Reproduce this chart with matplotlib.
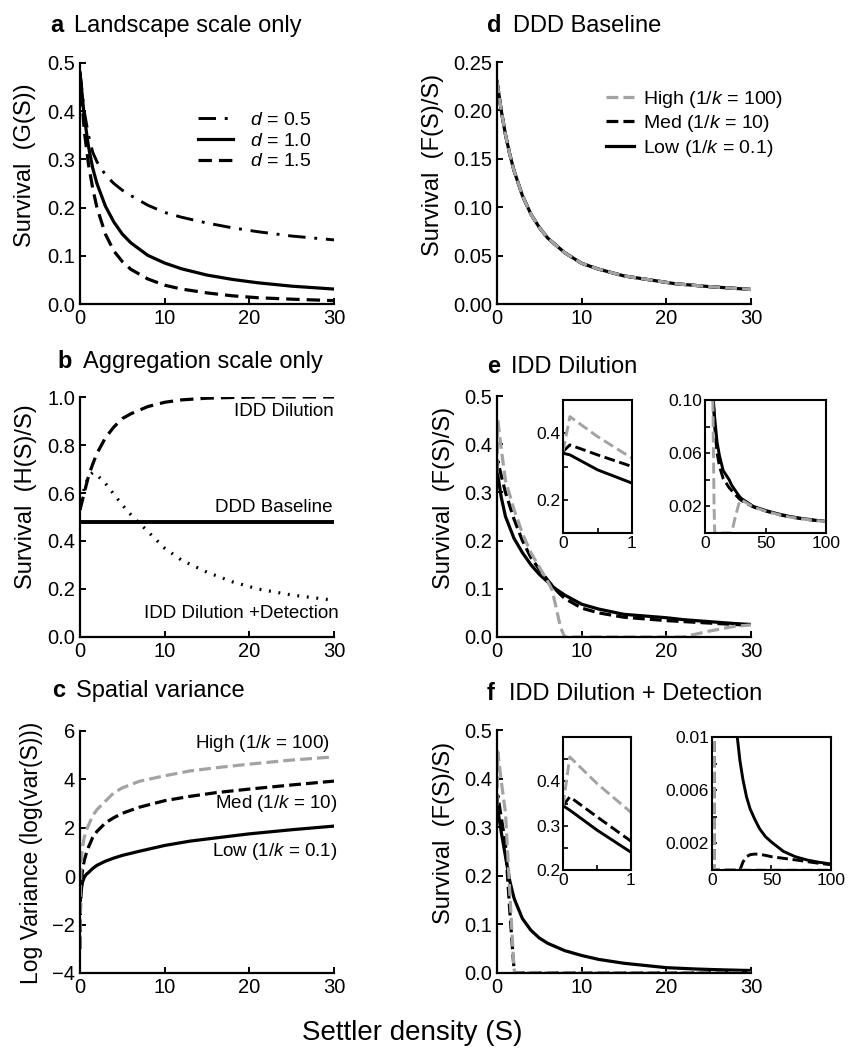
import matplotlib
matplotlib.use("Agg")
import matplotlib.pyplot as plt
import numpy as np

plt.rcParams['font.family'] = ['Liberation Sans', 'DejaVu Sans']
plt.rcParams['mathtext.fontset'] = 'custom'
plt.rcParams['mathtext.rm'] = 'Liberation Sans'
plt.rcParams['mathtext.it'] = 'Liberation Sans:italic'

GREY = '#a3a3a3'
W, H = 853, 1050

# ---- panel a : landscape scale only ----
a_x = [0, 0.5, 1, 1.5, 2, 3, 4, 5, 6, 8, 10, 12, 15, 18, 21, 25, 30]
a_d05 = [0.48, 0.40, 0.35, 0.315, 0.295, 0.268, 0.250, 0.236, 0.225, 0.205, 0.190,
         0.180, 0.168, 0.158, 0.150, 0.141, 0.133]
a_d10 = [0.48, 0.389, 0.327, 0.282, 0.250, 0.203, 0.170, 0.145, 0.127, 0.101, 0.085,
         0.073, 0.060, 0.051, 0.044, 0.037, 0.031]
a_d15 = [0.48, 0.36, 0.29, 0.24, 0.20, 0.145, 0.11, 0.088, 0.072, 0.052, 0.039,
         0.031, 0.023, 0.017, 0.013, 0.010, 0.007]
a_labels = [r'$d$ = 0.5', r'$d$ = 1.0', r'$d$ = 1.5']

# ---- panel b : aggregation scale only ----
b_x = [0, 0.5, 1, 1.5, 2, 3, 4, 5, 6, 7, 8, 10, 12, 15, 18, 21, 25, 30]
b_dilution = [0.53, 0.60, 0.67, 0.72, 0.765, 0.83, 0.875, 0.91, 0.93, 0.945, 0.96,
              0.978, 0.988, 0.995, 0.998, 1.0, 1.0, 1.0]
b_detection = [0.53, 0.62, 0.67, 0.685, 0.675, 0.64, 0.595, 0.55, 0.51, 0.475, 0.44,
               0.37, 0.32, 0.27, 0.23, 0.20, 0.175, 0.153]
b_base_x = [0, 30]
b_baseline = [0.48, 0.48]

# ---- panel c : spatial variance ----
c_x = [0.001, 0.05, 0.1, 0.2, 0.3, 0.5, 0.75, 1, 1.5, 2, 3, 4, 5, 7, 10, 13, 16, 20, 25, 30]
c_high = [-2.95, -0.5, 0.2, 0.8, 1.2, 1.6, 1.9, 2.1, 2.5, 2.75, 3.1, 3.45, 3.65, 3.92,
          4.15, 4.35, 4.48, 4.63, 4.8, 4.93]
c_med = [-3.0, -1.5, -0.7, -0.1, 0.25, 0.65, 0.95, 1.2, 1.6, 1.85, 2.2, 2.42, 2.6, 2.85,
         3.12, 3.3, 3.45, 3.6, 3.77, 3.93]
c_low = [np.nan, -1.0, -0.75, -0.45, -0.25, -0.05, 0.08, 0.15, 0.32, 0.45, 0.62, 0.75,
         0.86, 1.03, 1.27, 1.45, 1.58, 1.75, 1.92, 2.07]

# ---- panel d : DDD baseline ----
d_x = [0, 0.5, 1, 1.5, 2, 3, 4, 5, 6, 8, 10, 12, 15, 18, 21, 25, 30]
d_surv = [0.23, 0.20, 0.175, 0.155, 0.138, 0.112, 0.093, 0.079, 0.068, 0.053, 0.042,
          0.036, 0.029, 0.025, 0.021, 0.018, 0.015]
k_labels = [r'High (1/$k$ = 100)', r'Med (1/$k$ = 10)', r'Low (1/$k$ = 0.1)']

# ---- panel e : IDD dilution ----
e_x = [0, 0.1, 0.5, 1, 2, 3, 4, 5, 6, 6.5, 7, 7.5, 8, 10, 12, 15, 20, 22, 25, 28, 30,
       40, 50, 60, 70, 80, 90, 100]
e_low = [0.34, 0.335, 0.29, 0.25, 0.205, 0.175, 0.15, 0.13, 0.114, 0.106, 0.099, 0.093,
         0.087, 0.068, 0.058, 0.047, 0.04, 0.036, 0.032, 0.028, 0.026, 0.02, 0.017,
         0.0145, 0.0125, 0.011, 0.0098, 0.0088]
e_med = [0.345, 0.365, 0.335, 0.30, 0.245, 0.20, 0.165, 0.14, 0.118, 0.107, 0.097, 0.088,
         0.08, 0.06, 0.05, 0.041, 0.034, 0.032, 0.029, 0.026, 0.0245, 0.0195, 0.0165,
         0.014, 0.012, 0.0107, 0.0095, 0.0086]
e_high = [0.345, 0.45, 0.39, 0.325, 0.265, 0.215, 0.175, 0.145, 0.115, 0.098, 0.06, 0.02,
          0.0, 0.0, 0.0, 0.0, 0.0, 0.0, 0.012, 0.022, 0.025, 0.0195, 0.0165, 0.014,
          0.012, 0.0107, 0.0095, 0.0086]

# ---- panel f : IDD dilution + detection ----
f_x = [0, 0.1, 0.5, 1, 1.5, 2, 2.1, 3, 4, 5, 6, 8, 10, 12, 15, 20, 23.5, 26, 29, 32, 36,
       40, 45, 50, 60, 70, 80, 90, 100]
f_low = [0.345, 0.335, 0.29, 0.24, 0.19, 0.155, 0.15, 0.112, 0.088, 0.072, 0.061, 0.046,
         0.036, 0.028, 0.02, 0.011, 0.0082, 0.0068, 0.0055, 0.0046, 0.0038, 0.0031,
         0.0025, 0.0021, 0.0014, 0.001, 0.00075, 0.00058, 0.00045]
f_med = [0.345, 0.365, 0.32, 0.265, 0.13, 0.01, 0.0, 0.0, 0.0, 0.0, 0.0, 0.0, 0.0, 0.0,
         0.0, 0.0, 0.0, 0.0006, 0.001, 0.00115, 0.0012, 0.00118, 0.0011, 0.001, 0.00088,
         0.00076, 0.00063, 0.0005, 0.0004]
f_high = [0.345, 0.455, 0.395, 0.33, 0.17, 0.01, 0.0, 0.0, 0.0, 0.0, 0.0, 0.0, 0.0, 0.0,
          0.0, 0.0, 0.0, 0.0, 0.0, 0.0, 0.0, 0.0, 0.0, 0.0, 0.0, 0.0, 0.0, 0.0, 0.0]


def box(x0, y0, x1, y1):
    # pixel box (top-left origin) -> figure fraction rect
    return [x0 / W, 1 - y1 / H, (x1 - x0) / W, (y1 - y0) / H]


def main_axes(fig, rect, ylim, yticks, ylabels):
    ax = fig.add_axes(rect)
    ax.set_xlim(0, 30)
    ax.set_ylim(*ylim)
    ax.spines['top'].set_visible(False)
    ax.spines['right'].set_visible(False)
    for s in ('left', 'bottom'):
        ax.spines[s].set_linewidth(1.6)
    ax.set_xticks([0, 10, 20, 30])
    ax.set_yticks(yticks)
    ax.set_yticklabels(ylabels)
    ax.tick_params(direction='in', length=4, width=1.4, labelsize=14.5, pad=3.5)
    return ax


def inset_axes(fig, rect, xlim, ylim, xt, xl, yt, yl):
    ax = fig.add_axes(rect)
    ax.set_xlim(*xlim)
    ax.set_ylim(*ylim)
    for s in ax.spines.values():
        s.set_linewidth(1.5)
    ax.set_xticks(xt)
    ax.set_xticklabels(xl)
    ax.set_yticks(yt)
    ax.set_yticklabels(yl)
    ax.tick_params(direction='in', length=3.5, width=1.2, labelsize=12.5, pad=2)
    return ax


def three_lines(ax, x, low, med, high, lw=2.3):
    ax.plot(x, low, color='black', lw=lw)
    ax.plot(x, med, color='black', lw=lw, ls='--')
    ax.plot(x, high, color=GREY, lw=lw, ls='--')


def title(fig, x_letter, x_text, base, letter, text):
    y = 1 - base / H
    fig.text(x_letter / W, y, letter, fontsize=17, fontweight='bold', va='baseline')
    fig.text(x_text / W, y, text, fontsize=17, va='baseline')


def ylabel(fig, x, y, text, size=17):
    fig.text(x / W, 1 - y / H, text, rotation=90, ha='center', va='center', fontsize=size)


fig = plt.figure(figsize=(8.53, 10.5), dpi=100)

# a
ax = main_axes(fig, box(80, 63, 334, 304), (0, 0.5), [0, 0.1, 0.2, 0.3, 0.4, 0.5],
               ['0.0', '0.1', '0.2', '0.3', '0.4', '0.5'])
l1, = ax.plot(a_x, a_d05, color='black', lw=2.1, dashes=(6, 3, 1, 3))
l2, = ax.plot(a_x, a_d10, color='black', lw=2.3)
l3, = ax.plot(a_x, a_d15, color='black', lw=2.3, dashes=(4.2, 2.2))
fig.legend([l1, l2, l3], a_labels, loc='upper left', bbox_to_anchor=(198 / W, 1 - 111 / H),
           frameon=False, fontsize=14, borderpad=0, handlelength=1.8, handletextpad=0.9,
           labelspacing=0.17, borderaxespad=0)
title(fig, 50, 74, 32, 'a', 'Landscape scale only')
ylabel(fig, 25, 165, 'Survival  (G(S))')

# b
ax = main_axes(fig, box(80, 397, 334, 637), (0, 1.0), [0, 0.2, 0.4, 0.6, 0.8, 1.0],
               ['0.0', '0.2', '0.4', '0.6', '0.8', '1.0'])
ax.plot(b_base_x, b_baseline, color='black', lw=2.8)
ax.plot(b_x, b_dilution, color='black', lw=2.3, dashes=(4.2, 2.2))
ax.plot(b_x, b_detection, color='black', lw=2.3, ls=(0, (0.6, 2.4)))
ax.text(30, 0.94, 'IDD Dilution', ha='right', va='center', fontsize=13.5)
ax.text(29.8, 0.54, 'DDD Baseline', ha='right', va='center', fontsize=13.5)
ax.text(30.6, 0.10, 'IDD Dilution +Detection', ha='right', va='center', fontsize=13.5,
        clip_on=False)
title(fig, 57, 83, 368, 'b', 'Aggregation scale only')
ylabel(fig, 26, 497, 'Survival  (H(S)/S)')

# c
ax = main_axes(fig, box(80, 731, 334, 973), (-4, 6), [-4, -2, 0, 2, 4, 6],
               ['\u22124', '\u22122', '0', '2', '4', '6'])
ax.plot(c_x, c_low, color='black', lw=2.3)
ax.plot(c_x, c_med, color='black', lw=2.3, ls='--')
ax.plot(c_x, c_high, color=GREY, lw=2.3, ls='--')
ax.text(29.5, 5.5, k_labels[0], ha='right', va='center', fontsize=13.5)
ax.text(30.35, 3.0, k_labels[1], ha='right', va='center', fontsize=13.5, clip_on=False)
ax.text(30.35, 1.0, k_labels[2], ha='right', va='center', fontsize=13.5, clip_on=False)
title(fig, 52, 76, 697, 'c', 'Spatial variance')
ylabel(fig, 32, 853, 'Log Variance (log(var(S)))', size=16.5)

# d
ax = main_axes(fig, box(497, 62, 751, 304), (0, 0.25), [0, 0.05, 0.1, 0.15, 0.2, 0.25],
               ['0.00', '0.05', '0.10', '0.15', '0.20', '0.25'])
h_low, = ax.plot(d_x, d_surv, color='black', lw=2.3)
h_med, = ax.plot(d_x, d_surv, color='black', lw=2.3, ls='--')
h_high, = ax.plot(d_x, d_surv, color=GREY, lw=2.3, ls='--')
fig.legend([h_high, h_med, h_low], k_labels, loc='upper left',
           bbox_to_anchor=(606 / W, 1 - 89 / H), frameon=False, fontsize=14, borderpad=0,
           handlelength=1.45, handletextpad=0.45, labelspacing=0.17, borderaxespad=0)
title(fig, 487, 513, 32, 'd', 'DDD Baseline')
ylabel(fig, 433, 165, 'Survival  (F(S)/S)')

# e
ax = main_axes(fig, box(497, 396, 751, 637), (0, 0.5), [0, 0.1, 0.2, 0.3, 0.4, 0.5],
               ['0.0', '0.1', '0.2', '0.3', '0.4', '0.5'])
three_lines(ax, e_x, e_low, e_med, e_high)
title(fig, 487, 511, 373, 'e', 'IDD Dilution')
ylabel(fig, 444, 498, 'Survival  (F(S)/S)')
ins = inset_axes(fig, box(563, 400, 632, 533), (0, 1), (0.1, 0.5), [0, 0.5, 1],
                 ['0', '', '1'], [0.2, 0.3, 0.4], ['0.2', '', '0.4'])
three_lines(ins, e_x, e_low, e_med, e_high, lw=2.1)
ins = inset_axes(fig, box(705, 400, 826, 533), (0, 100), (0, 0.1), [0, 50, 100],
                 ['0', '50', '100'], [0.02, 0.04, 0.06, 0.08, 0.1],
                 ['0.02', '', '0.06', '', '0.10'])
three_lines(ins, e_x, e_low, e_med, e_high, lw=2.1)

# f
ax = main_axes(fig, box(497, 730, 751, 973), (0, 0.5), [0, 0.1, 0.2, 0.3, 0.4, 0.5],
               ['0.0', '0.1', '0.2', '0.3', '0.4', '0.5'])
three_lines(ax, f_x, f_low, f_med, f_high)
title(fig, 487, 509, 700, 'f', 'IDD Dilution + Detection')
ylabel(fig, 444, 833, 'Survival  (F(S)/S)')
ins = inset_axes(fig, box(563, 737, 631, 870), (0, 1), (0.2, 0.5), [0, 0.5, 1],
                 ['0', '', '1'], [0.2, 0.25, 0.3, 0.35, 0.4, 0.45],
                 ['0.2', '', '0.3', '', '0.4', ''])
three_lines(ins, f_x, f_low, f_med, f_high, lw=2.1)
ins = inset_axes(fig, box(712, 737, 831, 870), (0, 100), (0, 0.01), [0, 50, 100],
                 ['0', '50', '100'], [0.002, 0.004, 0.006, 0.008, 0.01],
                 ['0.002', '', '0.006', '', '0.01'])
three_lines(ins, f_x, f_low, f_med, f_high, lw=2.1)

fig.text(412 / W, 1 - 1040 / H, 'Settler density (S)', ha='center', va='baseline',
         fontsize=20)

fig.savefig('out.png', dpi=100)
